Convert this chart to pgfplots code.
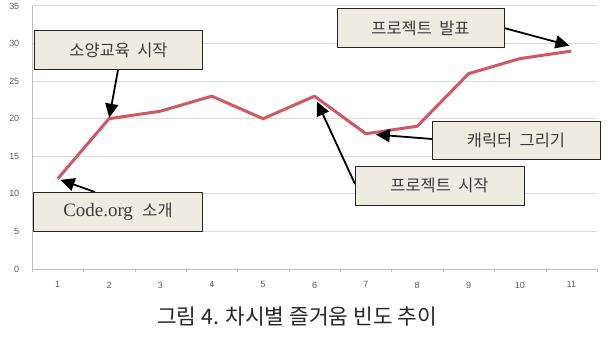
\documentclass[border=0pt]{standalone}
\usepackage{pgfplots}
\pgfplotsset{compat=1.18}
\usepackage{fontspec}
\setmainfont{Liberation Serif}
\setsansfont{Liberation Sans}
\newfontfamily\kr{Noto Sans CJK KR}
\usetikzlibrary{arrows.meta}
\definecolor{linered}{RGB}{207,88,98}
\definecolor{boxbg}{RGB}{238,236,225}
\definecolor{gridgray}{RGB}{217,217,217}
\definecolor{axgray}{RGB}{190,190,190}
\definecolor{ticklab}{RGB}{90,90,90}
\definecolor{boxtext}{RGB}{60,60,60}
\begin{document}
\begin{tikzpicture}[x=1bp,y=1bp]
\useasboundingbox (0,0) rectangle (607,336);
\begin{axis}[
  at={(32bp,67bp)}, anchor=south west,
  scale only axis, width=565bp, height=263bp,
  xmin=0.5, xmax=11.5, ymin=0, ymax=35,
  xtick={1,...,11}, ytick={0,5,...,35},
  minor xtick={0.5,1.5,...,11.5},
  axis lines=left,
  axis line style={-, draw=axgray, line width=0.8bp},
  major x tick style={draw=none},
  major y tick style={draw=none},
  minor tick length=3bp,
  tick align=outside,
  minor x tick style={draw=axgray},
  ymajorgrids, grid style={draw=gridgray, line width=1bp},
  ticklabel style={font=\sffamily\fontsize{9}{11}\selectfont, text=ticklab},
  /pgf/number format/assume math mode=true,
  xticklabel style={yshift=-5bp},
  yticklabel style={xshift=-5bp},
  clip=false,
]
\addplot[linered, line width=3bp, line join=round] coordinates {
(1,12) (2,20) (3,21) (4,23) (5,20) (6,23) (7,18) (8,19) (9,26) (10,28) (11,29)};
\coordinate (p1) at (axis cs:1,12);
\coordinate (p2) at (axis cs:2,20);
\coordinate (p6) at (axis cs:6,23);
\coordinate (p7) at (axis cs:7,18);
\coordinate (p11) at (axis cs:11,29);
\end{axis}
\tikzset{arr/.style={-{Triangle[length=14bp,width=13bp]}, line width=1.8bp, black},
  bx/.style={draw=black!85, fill=boxbg, line width=1bp, text=boxtext, inner sep=0pt}}
% arrows
\draw[arr, shorten >=1bp] (118,266) -- (p2);
\draw[arr, shorten >=2bp] (504,308) -- ([yshift=5bp]p11);
\draw[arr, shorten >=10bp] (432,197) -- (p7);
\draw[arr, shorten >=6bp] (355,152) -- (p6);
\draw[arr, shorten >=3bp] (95,144) -- (p1);
% boxes
\node[bx, minimum width=167bp, minimum height=38bp] at (118.5,286) {\kr\fontsize{16.5}{19}\selectfont 소양교육\ \ 시작};
\node[bx, minimum width=167bp, minimum height=38bp] at (420.5,308) {\kr\fontsize{16.5}{19}\selectfont 프로젝트\ \ 발표};
\node[bx, minimum width=168bp, minimum height=38bp] at (516,196) {\kr\fontsize{16.5}{19}\selectfont 캐릭터\ \ 그리기};
\node[bx, minimum width=169bp, minimum height=39bp] at (439.5,150.5) {\kr\fontsize{16.5}{19}\selectfont 프로젝트\ \ 시작};
\node[bx, minimum width=168bp, minimum height=39bp] at (118,124.5) {\fontsize{19}{22}\selectfont Code.org\ \ {\kr\fontsize{16.5}{19}\selectfont 소개}};
% caption
\node[font=\kr\fontsize{21.5}{25}\selectfont, text=black!85] at (297,20) {그림 4. 차시별 즐거움 빈도 추이};
\end{tikzpicture}
\end{document}
